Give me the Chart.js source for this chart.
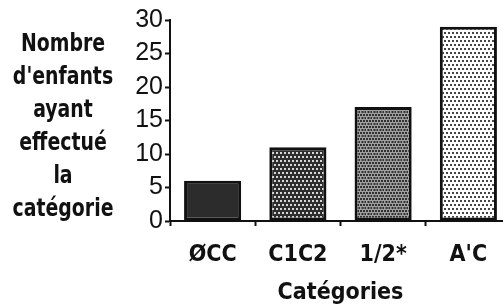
<!DOCTYPE html>
<html>
<head>
<meta charset="utf-8">
<script src="https://cdn.jsdelivr.net/npm/chart.js@4/dist/chart.umd.min.js"></script>
<style>
  html, body { margin: 0; padding: 0; background: #fff; }
  #wrap { position: relative; width: 503px; height: 307px; overflow: hidden; }
  #c { position: absolute; left: 0; top: 0; }
  #ytitle {
    position: absolute; left: 0; top: 26px; width: 126px;
    text-align: center; line-height: 33px;
    font-family: "DejaVu Sans Condensed", "Liberation Sans Narrow", sans-serif;
    font-weight: bold; font-size: 25px; color: #111;
    transform: scaleX(0.84); transform-origin: 63px 0;
    white-space: nowrap;
  }
</style>
</head>
<body>
<div id="wrap">
  <canvas id="c" width="511" height="307"></canvas>
  <div id="ytitle">Nombre<br>d'enfants<br>ayant<br>effectué<br>la<br>catégorie</div>
</div>
<script>
const categories = ["ØCC", "C1C2", "1/2*", "A'C"];
const counts = [6, 11, 17, 29];
const yTicks = [0, 5, 10, 15, 20, 25, 30];
const xTitle = "Catégories";

function makePattern(bg, dot, step, size, offsetRows) {
  const p = document.createElement('canvas');
  p.width = step * 2; p.height = step * 2;
  const g = p.getContext('2d');
  g.fillStyle = bg; g.fillRect(0, 0, p.width, p.height);
  g.fillStyle = dot;
  for (let r = 0; r < 2; r++) {
    for (let col = 0; col < 2; col++) {
      const ox = offsetRows && r % 2 ? step / 2 : 0;
      g.fillRect(col * step + ox, r * step, size, size);
    }
  }
  return g.createPattern(p, 'repeat');
}

const ctx = document.getElementById('c').getContext('2d');
const fills = [
  '#2c2c2c',
  makePattern('#2e2e2e', '#d8d8d8', 4, 2, true),
  makePattern('#a0a0a0', '#303030', 3, 2, true),
  makePattern('#ffffff', '#444444', 4, 2, true)
];

const FONT = '"DejaVu Sans Condensed", "Liberation Sans Narrow", sans-serif';

new Chart(ctx, {
  type: 'bar',
  data: {
    labels: categories,
    datasets: [{
      data: counts,
      backgroundColor: fills,
      borderColor: '#111',
      borderWidth: 3,
      borderSkipped: false,
      barPercentage: 0.67,
      categoryPercentage: 1
    }]
  },
  options: {
    responsive: false,
    animation: false,
    events: [],
    layout: { padding: { left: 0, right: 0, top: 20, bottom: 0 } },
    plugins: { legend: { display: false }, tooltip: { enabled: false } },
    scales: {
      x: {
        offset: true,
        grid: {
          display: true, offset: true, drawOnChartArea: false,
          drawTicks: true, tickLength: 5, tickWidth: 2, tickColor: '#111'
        },
        border: { display: true, color: '#111', width: 2 },
        ticks: {
          color: '#111', padding: 15,
          font: { family: FONT, size: 23, weight: 'bold' }
        },
        title: {
          display: true, text: xTitle, color: '#111',
          padding: { top: 4, bottom: 0 },
          font: { family: FONT, size: 23, weight: 'bold' }
        },
        afterFit: s => { s.height = 86; }
      },
      y: {
        min: 0, max: 30,
        afterBuildTicks: s => { s.ticks = yTicks.map(v => ({ value: v })); },
        grid: {
          display: true, drawOnChartArea: false,
          drawTicks: true, tickLength: 5, tickWidth: 2, tickColor: '#111'
        },
        border: { display: true, color: '#111', width: 2 },
        ticks: {
          color: '#111', padding: 2,
          font: { family: '"Liberation Sans", Arial, sans-serif', size: 25 }
        },
        afterFit: s => { s.width = 170; }
      }
    }
  }
});
</script>
</body>
</html>
